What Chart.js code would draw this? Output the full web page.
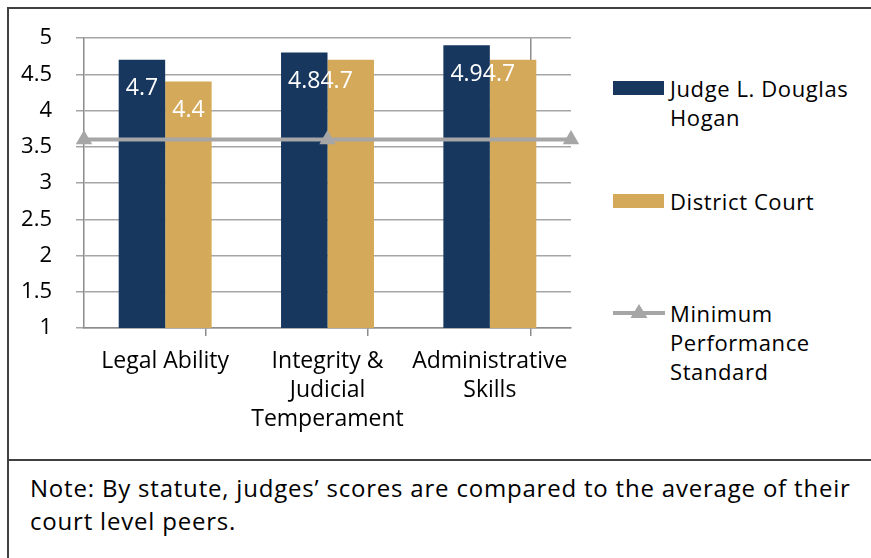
<!DOCTYPE html>
<html>
<head>
<meta charset="utf-8">
<script src="https://cdn.jsdelivr.net/npm/chart.js@4"></script>
<style>
    html, body { margin: 0; padding: 0; background: #fff; }
    body { width: 871px; height: 558px; overflow: hidden; position: relative; font-family: "Open Sans", sans-serif; color: #000; }
    #frame { position: absolute; left: 7px; top: 7px; width: 900px; height: 600px; border: 2px solid #404040; box-sizing: border-box; }
    #note-line { position: absolute; left: 7px; top: 459px; width: 900px; height: 0; border-top: 2px solid #404040; }
    #chart-wrap { position: absolute; left: 0; top: 0; width: 600px; height: 460px; }
    .legend-item { position: absolute; left: 613px; }
    .legend-text { position: absolute; left: 57px; font-size: 22px; letter-spacing: 0.6px; line-height: 29px; white-space: nowrap; }
    .swatch { position: absolute; left: 0; width: 51px; height: 14px; }
    #note { position: absolute; left: 30px; top: 471px; font-size: 24px; letter-spacing: 0.8px; line-height: 33px; white-space: nowrap; }
</style>
</head>
<body>
<div id="frame"></div>
<div id="note-line"></div>
<div id="chart-wrap"><canvas id="chart" width="600" height="460"></canvas></div>
<div id="legend"></div>
<div id="note">Note: By statute, judges’ scores are compared to the average of their<br>court level peers.</div>
<script>
    const categories = [['Legal Ability'], ['Integrity &', 'Judicial', 'Temperament'], ['Administrative', 'Skills']];
    const judgeScores = [4.7, 4.8, 4.9];
    const districtScores = [4.4, 4.7, 4.7];
    const minimumStandard = [3.6, 3.6, 3.6];
    const yTicks = [1, 1.5, 2, 2.5, 3, 3.5, 4, 4.5, 5];

    const navy = '#17375e';
    const gold = '#d4a95a';
    const grey = '#a6a6a6';
    const axisGrey = '#8c8c8c';
    const fontFamily = '"Open Sans", sans-serif';

    // The x axis runs edge to edge in half-category slots: categories sit on the odd
    // slots, category boundaries on the even ones. This lets the minimum-standard line
    // run from the left edge to the right edge on the same axis, like the original.
    const slots = categories.length * 2 + 1;
    const slotLabels = [];
    const judgeSlots = [];
    const districtSlots = [];
    const minimumSlots = [];
    for (let i = 0; i < slots; i++) {
        const isCat = i % 2 === 1;
        const c = (i - 1) / 2;
        slotLabels.push(isCat ? categories[c] : '');
        judgeSlots.push(isCat ? judgeScores[c] : null);
        districtSlots.push(isCat ? districtScores[c] : null);
        minimumSlots.push(null);
    }
    minimumStandard.forEach((v, k) => {
        minimumSlots[Math.round(k * (slots - 1) / (minimumStandard.length - 1))] = v;
    });

    // white value labels inside the top of each bar; when the second label would sit
    // nearly level with the first, it is put on the same line right after it
    const barLabels = {
        id: 'barLabels',
        afterDatasetsDraw(chart) {
            const ctx = chart.ctx;
            ctx.save();
            ctx.fillStyle = '#fff';
            ctx.font = '23px ' + fontFamily;
            ctx.textBaseline = 'middle';
            const first = chart.getDatasetMeta(0).data;
            const second = chart.getDatasetMeta(1).data;
            const v1 = chart.data.datasets[0].data;
            const v2 = chart.data.datasets[1].data;
            first.forEach((bar, j) => {
                if (v1[j] == null) return;
                const t1 = v1[j].toFixed(1);
                const t2 = v2[j].toFixed(1);
                const y1 = bar.y + 29;
                let y2 = second[j].y + 29;
                ctx.textAlign = 'center';
                ctx.fillText(t1, bar.x, y1);
                if (Math.abs(y2 - y1) < 18) {
                    ctx.textAlign = 'left';
                    ctx.fillText(t2, bar.x + ctx.measureText(t1).width / 2, y1);
                } else {
                    ctx.fillText(t2, second[j].x, y2);
                }
            });
            ctx.restore();
        }
    };

    new Chart(document.getElementById('chart'), {
        type: 'bar',
        data: {
            labels: slotLabels,
            datasets: [
                { label: 'Judge L. Douglas Hogan', data: judgeSlots, backgroundColor: navy, order: 1 },
                { label: 'District Court', data: districtSlots, backgroundColor: gold, order: 1 },
                { type: 'line', label: 'Minimum Performance Standard', data: minimumSlots, spanGaps: true,
                  borderColor: grey, backgroundColor: grey, borderWidth: 4, pointStyle: 'triangle',
                  pointRadius: 9.5, pointBorderWidth: 0, order: 0 }
            ]
        },
        options: {
            responsive: false,
            animation: false,
            datasets: { bar: { categoryPercentage: 1.145, barPercentage: 1, skipNull: true } },
            layout: { padding: { top: 38, right: 29, left: 0, bottom: 0 } },
            plugins: { legend: { display: false }, tooltip: { enabled: false } },
            scales: {
                x: {
                    offset: false,
                    afterFit(scale) { scale.height = 132; },
                    grid: {
                        drawOnChartArea: true,
                        color: c => c.index === slots - 1 ? axisGrey : 'rgba(0,0,0,0)',
                        tickColor: c => c.index % 2 === 0 ? axisGrey : 'rgba(0,0,0,0)',
                        tickLength: 8,
                        lineWidth: 1.5
                    },
                    border: { color: axisGrey, width: 1.5 },
                    ticks: {
                        color: '#000', maxRotation: 0, autoSkip: false, padding: 11,
                        font: { family: fontFamily, size: 23, lineHeight: 1.26 }
                    }
                },
                y: {
                    min: 1, max: 5,
                    afterFit(scale) { scale.width = 84; },
                    afterBuildTicks(scale) { scale.ticks = yTicks.map(v => ({ value: v })); },
                    grid: { color: grey, tickColor: grey, tickLength: 8, lineWidth: 1.5 },
                    border: { color: axisGrey, width: 1.5 },
                    ticks: {
                        color: '#000', padding: 24,
                        font: { family: fontFamily, size: 22 },
                        callback: v => String(v)
                    }
                }
            }
        },
        plugins: [barLabels]
    });

    // legend to the right of the plot
    const legendItems = [
        { lines: ['Judge L. Douglas', 'Hogan'], top: 74, kind: 'box', color: navy },
        { lines: ['District Court'], top: 187, kind: 'box', color: gold },
        { lines: ['Minimum', 'Performance', 'Standard'], top: 299, kind: 'line', color: grey }
    ];
    const legend = document.getElementById('legend');
    legendItems.forEach(item => {
        const el = document.createElement('div');
        el.className = 'legend-item';
        el.style.top = item.top + 'px';
        let mark;
        if (item.kind === 'box') {
            mark = `<div class="swatch" style="top:7px;background:${item.color}"></div>`;
        } else {
            mark = `<svg style="position:absolute;left:0;top:2px" width="52" height="24">
                <line x1="0" y1="12" x2="52" y2="12" stroke="${item.color}" stroke-width="4"/>
                <polygon points="26,3 34.5,17 17.5,17" fill="${item.color}"/></svg>`;
        }
        el.innerHTML = mark + `<div class="legend-text" style="top:0">${item.lines.join('<br>')}</div>`;
        legend.appendChild(el);
    });
</script>
</body>
</html>
